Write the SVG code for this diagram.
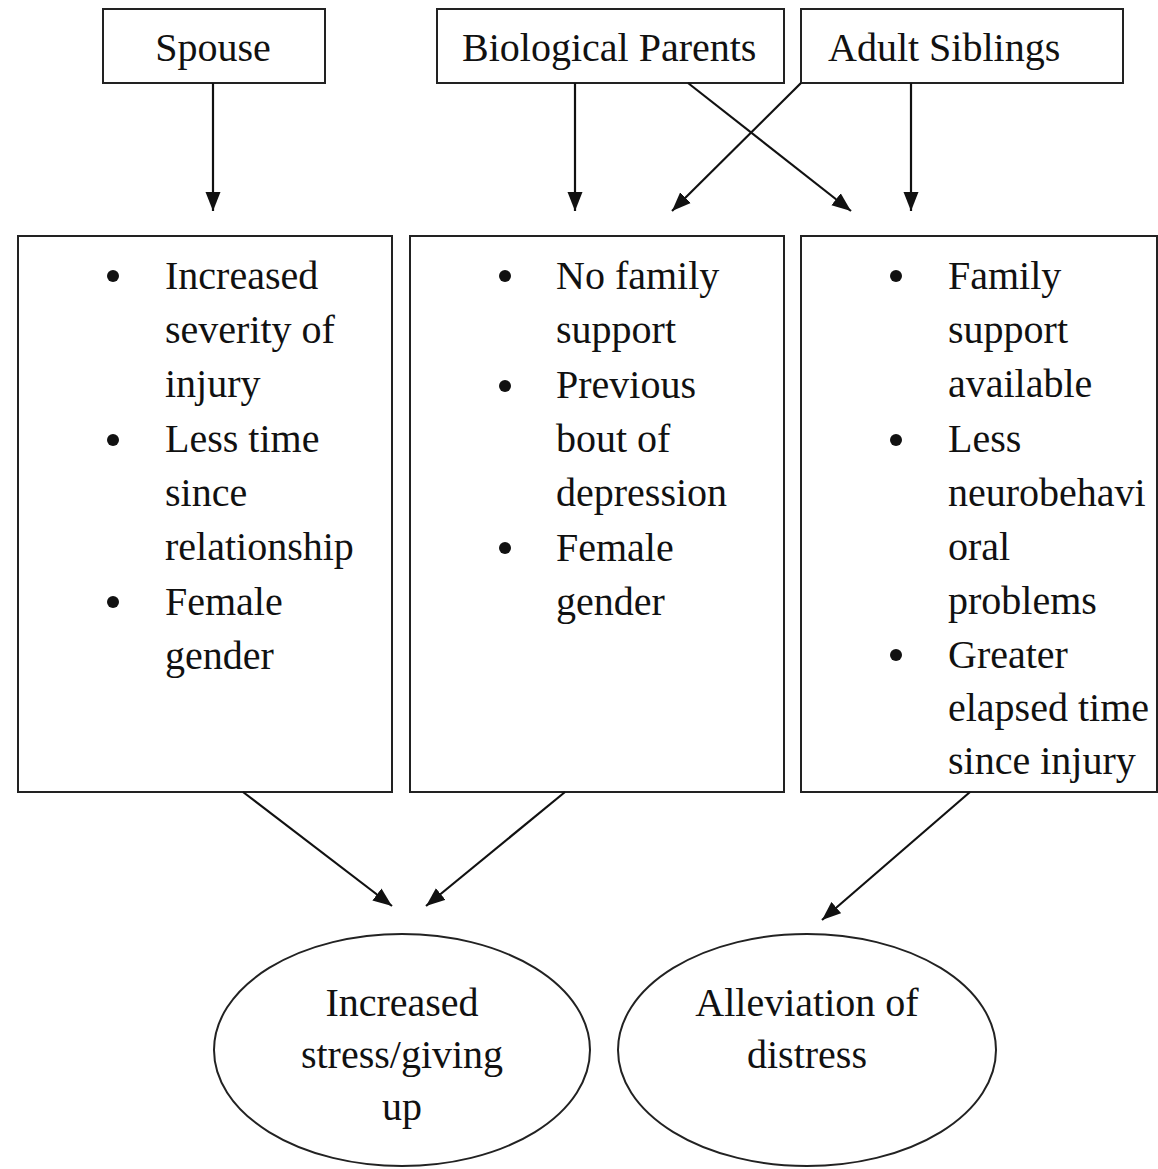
<svg xmlns="http://www.w3.org/2000/svg" width="1158" height="1169" viewBox="0 0 1158 1169">
<style>
.box{fill:#fff;stroke:#222;stroke-width:2}
.t{font-family:"Liberation Serif","Times New Roman",serif;font-size:40px;fill:#111}
.c{text-anchor:middle}
.con{stroke:#111;stroke-width:2.2;fill:none;marker-end:url(#ah)}
.bul{fill:#111}
</style>
<defs>
<marker id="ah" markerUnits="userSpaceOnUse" markerWidth="20" markerHeight="16" refX="19" refY="8" orient="auto">
<path d="M0,0.5 L19,8 L0,15.5 z" fill="#111"/>
</marker>
</defs>
<rect width="1158" height="1169" fill="#fff"/>

<g id="spouse">
<rect class="box" x="103" y="9" width="222" height="74"/>
<text class="t c" x="213" y="61">Spouse</text>
</g>
<g id="bio-parents">
<rect class="box" x="437" y="9" width="347" height="74"/>
<text class="t" x="462" y="61">Biological Parents</text>
</g>
<g id="adult-siblings">
<rect class="box" x="801" y="9" width="322" height="74"/>
<text class="t" x="828" y="61">Adult Siblings</text>
</g>

<g id="box-spouse">
<rect class="box" x="18" y="236" width="374" height="556"/>
<circle class="bul" cx="113" cy="276" r="6"/>
<circle class="bul" cx="113" cy="440" r="6"/>
<circle class="bul" cx="113" cy="602" r="6"/>
<text class="t" x="165" y="289">Increased</text>
<text class="t" x="165" y="343">severity of</text>
<text class="t" x="165" y="397">injury</text>
<text class="t" x="165" y="452">Less time</text>
<text class="t" x="165" y="506">since</text>
<text class="t" x="165" y="560">relationship</text>
<text class="t" x="165" y="615">Female</text>
<text class="t" x="165" y="669">gender</text>
</g>

<g id="box-parents">
<rect class="box" x="410" y="236" width="374" height="556"/>
<circle class="bul" cx="505" cy="276" r="6"/>
<circle class="bul" cx="505" cy="386" r="6"/>
<circle class="bul" cx="505" cy="548" r="6"/>
<text class="t" x="556" y="289">No family</text>
<text class="t" x="556" y="343">support</text>
<text class="t" x="556" y="398">Previous</text>
<text class="t" x="556" y="452">bout of</text>
<text class="t" x="556" y="506">depression</text>
<text class="t" x="556" y="561">Female</text>
<text class="t" x="556" y="615">gender</text>
</g>

<g id="box-siblings">
<rect class="box" x="801" y="236" width="356" height="556"/>
<circle class="bul" cx="896" cy="276" r="6"/>
<circle class="bul" cx="896" cy="440" r="6"/>
<circle class="bul" cx="896" cy="655" r="6"/>
<text class="t" x="948" y="289">Family</text>
<text class="t" x="948" y="343">support</text>
<text class="t" x="948" y="397">available</text>
<text class="t" x="948" y="452">Less</text>
<text class="t" x="948" y="506">neurobehavi</text>
<text class="t" x="948" y="560">oral</text>
<text class="t" x="948" y="614">problems</text>
<text class="t" x="948" y="668">Greater</text>
<text class="t" x="948" y="721">elapsed time</text>
<text class="t" x="948" y="774">since injury</text>
</g>

<g id="outcome-stress">
<ellipse class="box" cx="402" cy="1050" rx="188" ry="116"/>
<text class="t c" x="402" y="1016">Increased</text>
<text class="t c" x="402" y="1068">stress/giving</text>
<text class="t c" x="402" y="1120">up</text>
</g>
<g id="outcome-alleviation">
<ellipse class="box" cx="807" cy="1050" rx="189" ry="116"/>
<text class="t c" x="807" y="1016">Alleviation of</text>
<text class="t c" x="807" y="1068">distress</text>
</g>

<g id="connectors">
<line class="con" x1="213" y1="83" x2="213" y2="211"/>
<line class="con" x1="575" y1="83" x2="575" y2="211"/>
<line class="con" x1="688" y1="83" x2="851" y2="211"/>
<line class="con" x1="801" y1="83" x2="672" y2="211"/>
<line class="con" x1="911" y1="83" x2="911" y2="211"/>
<line class="con" x1="243" y1="792" x2="392" y2="906"/>
<line class="con" x1="565" y1="792" x2="426" y2="906"/>
<line class="con" x1="970" y1="792" x2="822" y2="920"/>
</g>
</svg>
